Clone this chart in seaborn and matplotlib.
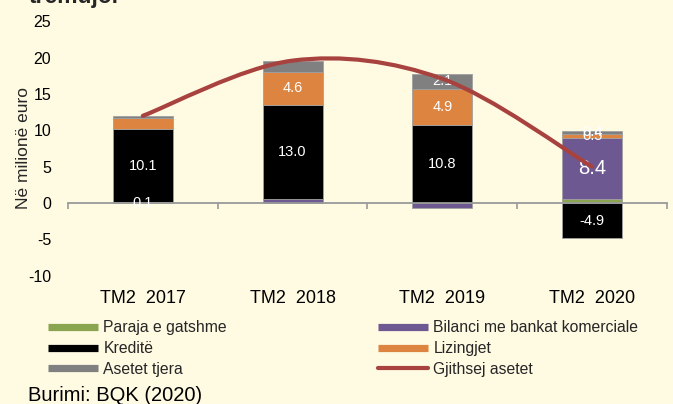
import numpy as np
import seaborn as sns
import matplotlib
matplotlib.use("Agg")
from matplotlib import pyplot as plt
from matplotlib.path import Path
from matplotlib.patches import PathPatch
from matplotlib.lines import Line2D

# data (milion euro)
periods = ['TM2  2017', 'TM2  2018', 'TM2  2019', 'TM2  2020']
paraja = [0.1, 0.0, 0.0, 0.6]
bilanci = [0.0, 0.5, -0.7, 8.4]
kredite = [10.1, 13.0, 10.8, -4.9]
lizingjet = [1.5, 4.6, 4.9, 0.5]
asetet_tjera = [0.3, 1.5, 2.1, 0.4]
gjithsej = [12.0, 19.6, 17.1, 5.0]

series_names = ['Paraja e gatshme', 'Bilanci me bankat komerciale', 'Kreditë',
                'Lizingjet', 'Asetet tjera']
series_vals = [paraja, bilanci, kredite, lizingjet, asetet_tjera]
colors = ['#8aa54f', '#6e5892', '#000000', '#dd8440', '#808080']
line_color = '#a8423f'

# which labels are shown (series index, period index)
labels = {(0, 0): '0.1', (2, 0): '10.1', (2, 1): '13.0', (3, 1): '4.6',
          (2, 2): '10.8', (3, 2): '4.9', (4, 2): '2.1',
          (1, 3): '8.4', (3, 3): '0.5', (4, 3): '0.4', (2, 3): '-4.9'}

bg = '#fffae2'
sns.set_theme(style='white', rc={'axes.facecolor': bg, 'figure.facecolor': bg})
plt.rcParams['font.family'] = ['Liberation Sans', 'DejaVu Sans']
plt.rcParams['axes.unicode_minus'] = False

fig = plt.figure(figsize=(6.73, 4.04), dpi=100)
ax = fig.add_axes([0.101, 0.318, 0.89, 0.629])

pos_base = np.zeros(len(periods))
neg_base = np.zeros(len(periods))
for si, (name, vals, col) in enumerate(zip(series_names, series_vals, colors)):
    vals = np.array(vals, dtype=float)
    bottoms = np.where(vals >= 0, pos_base, neg_base)
    sns.barplot(x=periods, y=vals, bottom=bottoms, color=col, width=0.4,
                edgecolor='#a0a0a0', linewidth=0.6, ax=ax, saturation=1)
    for pi, v in enumerate(vals):
        if (si, pi) in labels:
            fs = 14.5 if (si, pi) == (1, 3) else 10.5
            ax.text(pi, bottoms[pi] + v / 2, labels[(si, pi)], color='white',
                    ha='center', va='center', fontsize=fs)
    pos_base = np.where(vals >= 0, pos_base + vals, pos_base)
    neg_base = np.where(vals < 0, neg_base + vals, neg_base)

# smoothed total line (Excel style bezier through the totals)
pts = np.column_stack([np.arange(len(gjithsej)), gjithsej])
verts = [pts[0]]
codes = [Path.MOVETO]
for i in range(len(pts) - 1):
    p0 = pts[max(i - 1, 0)]
    p1 = pts[i]
    p2 = pts[i + 1]
    p3 = pts[min(i + 2, len(pts) - 1)]
    verts += [p1 + (p2 - p0) / 6, p2 - (p3 - p1) / 6, p2]
    codes += [Path.CURVE4] * 3
ax.add_patch(PathPatch(Path(verts, codes), facecolor='none', edgecolor=line_color,
                       lw=3.0, capstyle='round', zorder=5))

ax.set_xlim(-0.5, 3.5)
ax.set_ylim(-10, 25)
ax.set_yticks(range(-10, 30, 5))
ax.tick_params(axis='y', length=0, pad=12, labelsize=11.5, colors='black')
for s in ['left', 'right', 'top']:
    ax.spines[s].set_visible(False)
ax.spines['bottom'].set_position(('data', 0))
ax.spines['bottom'].set_color('#999999')
ax.spines['bottom'].set_linewidth(1.3)
ax.set_xticks(np.arange(-0.5, 4, 1))
ax.set_xticklabels([])
ax.tick_params(axis='x', length=4, width=1.2, color='#999999', direction='out', bottom=True)
for i, p in enumerate(periods):
    ax.text(i, -0.089, p, transform=ax.get_xaxis_transform(), ha='center', va='center',
            fontsize=13, color='black')
ax.set_xlabel('')
ax.set_ylabel('Në milionë euro', fontsize=12.5)
ax.yaxis.set_label_coords(-0.062, 0.5)

# legend
def bar_handle(c):
    return Line2D([], [], color=c, lw=5.2, solid_capstyle='butt')

left_h = [bar_handle(colors[0]), bar_handle(colors[2]), bar_handle(colors[4])]
left_l = [series_names[0], series_names[2], series_names[4]]
right_h = [bar_handle(colors[1]), bar_handle(colors[3]),
           Line2D([], [], color=line_color, lw=3.0, solid_capstyle='round')]
right_l = [series_names[1], series_names[3], 'Gjithsej asetet']
for h, l, x in [(left_h, left_l, 0.071), (right_h, right_l, 0.561)]:
    fig.legend(h, l, loc='upper left', bbox_to_anchor=(x, 0.207), frameon=False,
               fontsize=11.3, handlelength=3.2, handletextpad=0.35, labelspacing=0.36,
               borderpad=0, borderaxespad=0)

fig.text(0.042, 0.008, 'Burimi: BQK (2020)', fontsize=14.5, color='black')
fig.text(0.042, 1 - 3 / 404, 'tremujor', fontsize=16.5, fontweight='bold', va='baseline')

fig.savefig('out.png', dpi=100, facecolor=bg)
